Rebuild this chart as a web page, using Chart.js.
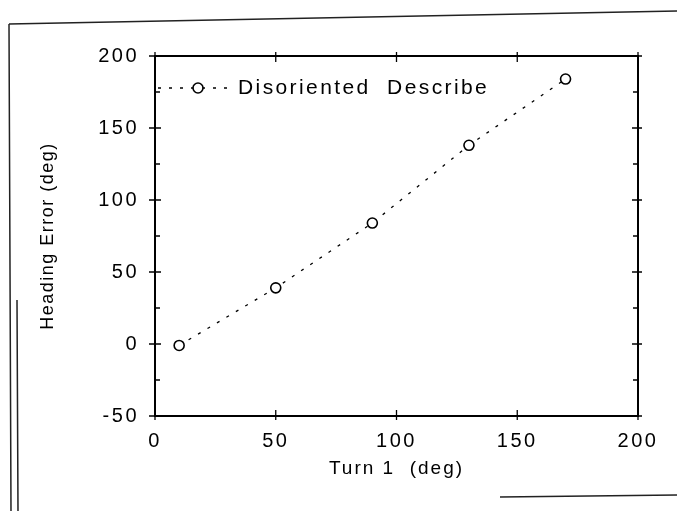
<!DOCTYPE html>
<html>
<head>
<meta charset="utf-8">
<script src="https://cdn.jsdelivr.net/npm/chart.js@4.4.0/dist/chart.umd.min.js"></script>
<style>
  html, body { margin: 0; padding: 0; background: #fff; }
  #wrap { width: 677px; height: 511px; position: relative; }
</style>
</head>
<body>
<div id="wrap"><canvas id="chart"></canvas></div>
<script>
// data
const turnDeg = [10, 50, 90, 130, 170];
const headingError = [-1, 39, 84, 138, 184];
const xTicks = [0, 50, 100, 150, 200];
const yTicks = [-50, 0, 50, 100, 150, 200];
const yMinorTicks = [-25, 25, 75, 125, 175];
const seriesLabel = "Disoriented  Describe";

const FONT = "'Liberation Sans', Arial, Helvetica, sans-serif";

// axis titles are less spread out than the tick numbers
const baseDrawTitle = Chart.Scale.prototype.drawTitle;
Chart.Scale.prototype.drawTitle = function () {
  this.ctx.save();
  this.ctx.letterSpacing = this.axis === "x" ? "2px" : "1.5px";
  baseDrawTitle.apply(this, arguments);
  this.ctx.restore();
};

// box around the plot with "+" ticks on every side
const frameTicks = {
  id: "frameTicks",
  afterDatasetsDraw(chart) {
    const { ctx, chartArea: a, scales: { x, y } } = chart;
    ctx.save();
    ctx.strokeStyle = "#000";
    ctx.lineWidth = 2;
    ctx.strokeRect(a.left, a.top, a.right - a.left, a.bottom - a.top);
    ctx.lineWidth = 1.3;
    ctx.beginPath();
    xTicks.forEach(v => {
      const px = x.getPixelForValue(v);
      ctx.moveTo(px, a.bottom - 6); ctx.lineTo(px, a.bottom + 4);
      ctx.moveTo(px, a.top - 4); ctx.lineTo(px, a.top + 6);
    });
    yTicks.forEach(v => {
      const py = y.getPixelForValue(v);
      ctx.moveTo(a.left - 6, py); ctx.lineTo(a.left + 6, py);
      ctx.moveTo(a.right - 6, py); ctx.lineTo(a.right + 4, py);
    });
    yMinorTicks.forEach(v => {
      const py = y.getPixelForValue(v);
      ctx.moveTo(a.left, py); ctx.lineTo(a.left + 5, py);
      ctx.moveTo(a.right - 5, py); ctx.lineTo(a.right, py);
    });
    ctx.stroke();
    ctx.restore();
  }
};

// legend sits inside the plot, top left
const insideLegend = {
  id: "insideLegend",
  afterDraw(chart) {
    const { ctx, chartArea: a } = chart;
    const ds = chart.data.datasets[0];
    const yy = a.top + 32;
    ctx.save();
    ctx.strokeStyle = "#000";
    ctx.lineWidth = ds.borderWidth;
    ctx.setLineDash(ds.borderDash);
    ctx.beginPath();
    ctx.moveTo(a.left + 3, yy);
    ctx.lineTo(a.left + 76, yy);
    ctx.stroke();
    ctx.setLineDash([]);
    ctx.fillStyle = "#fff";
    ctx.lineWidth = ds.pointBorderWidth;
    ctx.beginPath();
    ctx.arc(a.left + 43, yy, ds.pointRadius, 0, Math.PI * 2);
    ctx.fill();
    ctx.stroke();
    ctx.fillStyle = "#000";
    ctx.letterSpacing = "2.4px";
    ctx.font = "21px " + FONT;
    ctx.textBaseline = "middle";
    ctx.fillText(seriesLabel, a.left + 83, yy);
    ctx.restore();
  }
};

// scan edges of the page
const pageEdges = {
  id: "pageEdges",
  afterDraw(chart) {
    const ctx = chart.ctx;
    ctx.save();
    ctx.strokeStyle = "#222";
    ctx.lineWidth = 1.5;
    ctx.beginPath();
    ctx.moveTo(9, 24); ctx.lineTo(677, 11);
    ctx.moveTo(9, 24); ctx.lineTo(11, 511);
    ctx.moveTo(17, 300); ctx.lineTo(18, 511);
    ctx.moveTo(500, 497); ctx.lineTo(677, 495);
    ctx.stroke();
    ctx.restore();
  }
};

const spacing = {
  id: "spacing",
  beforeDraw(chart) { chart.ctx.letterSpacing = "2.5px"; }
};

new Chart(document.getElementById("chart"), {
  type: "line",
  data: {
    datasets: [{
      label: seriesLabel,
      data: turnDeg.map((t, i) => ({ x: t, y: headingError[i] })),
      borderColor: "#000",
      borderWidth: 1.3,
      borderDash: [3, 8],
      pointRadius: 5,
      pointBorderWidth: 1.6,
      pointBackgroundColor: "#fff",
      pointBorderColor: "#000",
      fill: false,
      tension: 0
    }]
  },
  options: {
    responsive: true,
    maintainAspectRatio: false,
    animation: false,
    layout: { padding: { top: 56, right: 39, left: 0, bottom: 0 } },
    plugins: { legend: { display: false }, tooltip: { enabled: false } },
    scales: {
      x: {
        type: "linear", min: 0, max: 200,
        afterBuildTicks(s) { s.ticks = xTicks.map(v => ({ value: v })); },
        afterFit(s) { s.height = 95; },
        grid: { display: false },
        border: { display: false },
        ticks: { color: "#000", padding: 5, maxRotation: 0, font: { family: FONT, size: 20 } },
        title: { display: true, text: "Turn 1  (deg)", color: "#000",
                 font: { family: FONT, size: 19 }, padding: { top: 0, bottom: 31 } }
      },
      y: {
        type: "linear", min: -50, max: 200,
        afterBuildTicks(s) { s.ticks = yTicks.map(v => ({ value: v })); },
        afterFit(s) { s.width = 155; },
        grid: { display: false },
        border: { display: false },
        ticks: { color: "#000", padding: 8, font: { family: FONT, size: 20 } },
        title: { display: true, text: "Heading Error (deg)", color: "#000",
                 font: { family: FONT, size: 18 }, padding: { top: 37, bottom: 0 } }
      }
    }
  },
  plugins: [spacing, frameTicks, insideLegend, pageEdges]
});
</script>
</body>
</html>
